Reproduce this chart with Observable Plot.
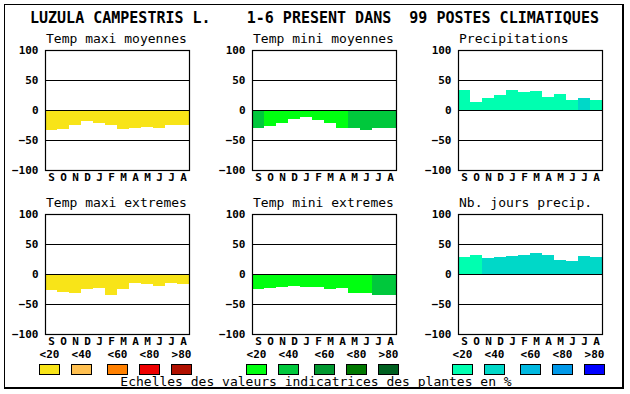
<!DOCTYPE html>
<html>
<head>
<meta charset="utf-8">
<script src="https://cdn.jsdelivr.net/npm/d3@7"></script>
<script src="https://cdn.jsdelivr.net/npm/@observablehq/plot@0.6"></script>
<style>
  html, body { margin: 0; padding: 0; background: #fff; }
  #root { position: relative; width: 630px; height: 394px; overflow: hidden; font-family: "DejaVu Sans Mono", monospace; color: #000; }
  .abs { position: absolute; white-space: pre; line-height: 1; }
</style>
</head>
<body>
<div id="root"></div>
<script>
// ---- data ----
const months = ["S","O","N","D","J","F","M","A","M","J","J","A"];
const yTicks = [-100, -50, 0, 50, 100];
const gridLines = [-50, 0, 50];
const classLabels = ["<20", "<40", "<60", "<80", ">80"];

const warmColors = ["#f8e418", "#ffc050", "#ff8000", "#ee0000", "#b01000"];
const greenColors = ["#00ff10", "#00c83c", "#009830", "#007800", "#006020"];
const blueColors = ["#00ffb0", "#00d8c8", "#00b8e0", "#0098e8", "#0000ff"];

const mainTitle = "LUZULA CAMPESTRIS L.    1-6 PRESENT DANS  99 POSTES CLIMATIQUES";
const footnote = "Echelles des valeurs indicatrices des plantes en %";

const panelTitles = ["Temp maxi moyennes", "Temp mini moyennes", "Precipitations",
                     "Temp maxi extremes", "Temp mini extremes", "Nb. jours precip."];

const tmaxMoy = [-34, -32, -25.5, -18, -21, -25.5, -32, -30.5, -28, -30.5, -25.5, -25.5];
const tmaxMoyCls = [0,0,0,0,0,0,0,0,0,0,0,0];
const tminMoy = [-30.5, -27, -22, -14.5, -11, -16, -22, -30.5, -30.5, -34, -30.5, -30.5];
const tminMoyCls = [1,0,0,0,0,0,0,0,1,1,1,1];
const precip = [34, 14, 20.5, 25.5, 34, 30.5, 32, 22, 27, 17, 20.5, 17];
const precipCls = [0,0,0,0,0,0,0,0,0,0,1,0];
const tmaxExt = [-27, -30.5, -32, -25.5, -23, -35.5, -25.5, -14.5, -16, -20.5, -14.5, -17];
const tmaxExtCls = [0,0,0,0,0,0,0,0,0,0,0,0];
const tminExt = [-25.5, -24, -22, -20.5, -22, -22, -25.5, -24, -32, -32, -35.5, -35.5];
const tminExtCls = [0,0,0,0,0,0,0,0,0,0,1,1];
const nbJours = [27.8, 32, 26, 27.8, 30.5, 32, 35.5, 32, 24, 22, 30.5, 27.8];
const nbJoursCls = [0,0,1,1,1,1,1,1,1,1,1,1];

// ---- layout ----
const root = document.getElementById("root");
const colLeft = [45, 252, 458];
const rowTop = [50, 214];
const ML = 40, MR = 5, MT = 20, MB = 20, PW = 144, PH = 120;

function addText(txt, left, top, css) {
  const d = document.createElement("div");
  d.className = "abs";
  d.textContent = txt;
  d.style.left = left + "px";
  d.style.top = top + "px";
  Object.assign(d.style, css || {});
  root.appendChild(d);
  return d;
}

// outer border
const border = document.createElement("div");
Object.assign(border.style, {position: "absolute", left: "4px", top: "4px", width: "620px", height: "385px",
  borderLeft: "1px solid #000", borderTop: "1px solid #000", borderRight: "2px solid #000", borderBottom: "2px solid #000", boxSizing: "border-box"});
root.appendChild(border);

addText(mainTitle, 30, 11, {fontSize: "15px", fontWeight: "bold"});

function panel(values, cls, palette, col, row, title) {
  const data = values.map((v, i) => ({i, v, c: cls[i]}));
  const svg = Plot.plot({
    width: ML + PW + MR, height: MT + PH + MB,
    marginLeft: ML, marginRight: MR, marginTop: MT, marginBottom: MB,
    x: {type: "band", domain: d3.range(12), padding: 0, tickFormat: i => months[i], tickSize: 0, tickPadding: 3, label: null},
    y: {domain: [-100, 100], ticks: yTicks, tickSize: 0, tickPadding: 7, label: null},
    color: {type: "ordinal", domain: [0, 1, 2, 3, 4], range: palette},
    marks: [
      Plot.barY(data, {x: "i", y: "v", fill: "c", shapeRendering: "crispEdges"}),
      Plot.ruleY(gridLines, {stroke: "#000", strokeWidth: 1.2}),
      Plot.frame({stroke: "#000", strokeWidth: 1.2})
    ],
    style: {fontFamily: "DejaVu Sans Mono", fontSize: "11px", fontWeight: "bold", color: "#000", background: "transparent", overflow: "visible"}
  });
  svg.style.position = "absolute";
  svg.style.left = (colLeft[col] - ML) + "px";
  svg.style.top = (rowTop[row] - MT) + "px";
  root.appendChild(svg);
  addText(title, colLeft[col] + 1, rowTop[row] - 18, {fontSize: "13px"});
}

panel(tmaxMoy, tmaxMoyCls, warmColors, 0, 0, panelTitles[0]);
panel(tminMoy, tminMoyCls, greenColors, 1, 0, panelTitles[1]);
panel(precip, precipCls, blueColors, 2, 0, panelTitles[2]);
panel(tmaxExt, tmaxExtCls, warmColors, 0, 1, panelTitles[3]);
panel(tminExt, tminExtCls, greenColors, 1, 1, panelTitles[4]);
panel(nbJours, nbJoursCls, blueColors, 2, 1, panelTitles[5]);

// legends
const swOffsets = [-6, 26, 62, 94, 126];
[warmColors, greenColors, blueColors].forEach((pal, g) => {
  pal.forEach((c, k) => {
    const x = colLeft[g] + swOffsets[k];
    const sw = document.createElement("div");
    Object.assign(sw.style, {position: "absolute", left: x + "px", top: "364px", width: "21px", height: "11px",
      background: c, border: "1px solid #000", boxSizing: "border-box"});
    root.appendChild(sw);
    addText(classLabels[k], x - 1, 349, {fontSize: "11px", fontWeight: "bold", width: "23px", textAlign: "center"});
  });
});

addText(footnote, 0, 375, {fontSize: "13px", width: "632px", textAlign: "center"});
</script>
</body>
</html>
